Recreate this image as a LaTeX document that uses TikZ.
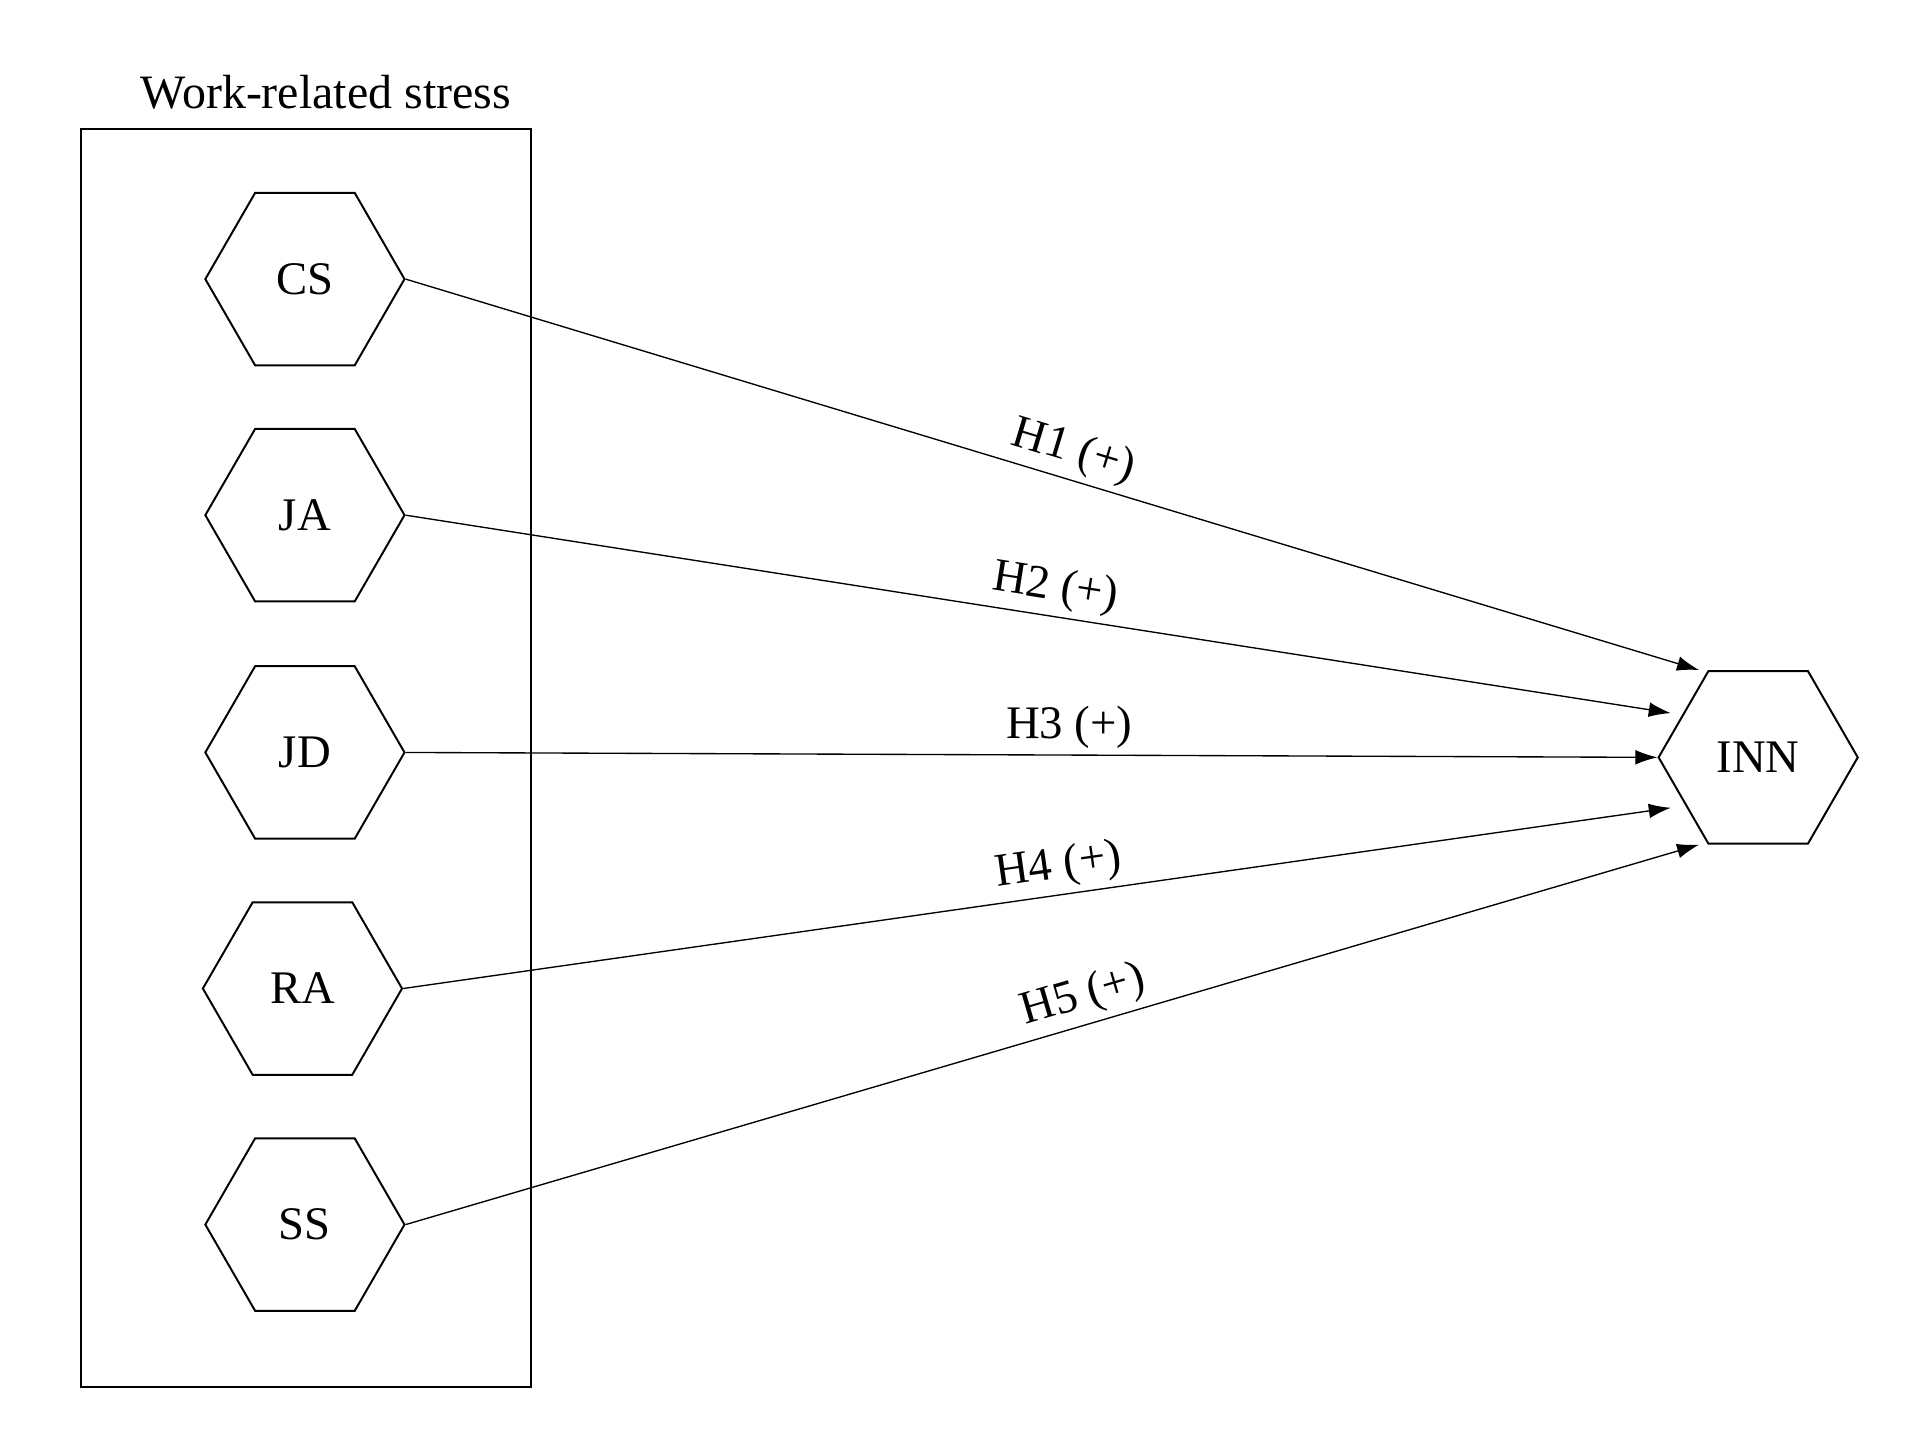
\documentclass[tikz,border=0pt]{standalone}
\usepackage{fontspec}
\setmainfont{Liberation Serif}
\usetikzlibrary{shapes.geometric,arrows.meta,calc}
\begin{document}
\begin{tikzpicture}[x=1pt,y=-1pt,
  hex/.style={draw,line width=1.6pt,regular polygon,regular polygon sides=6,shape border rotate=0,minimum size=162pt,inner sep=0pt,font=\fontsize{38}{44}\selectfont},
  arr/.style={line width=1.1pt,-{Latex[length=18pt,width=12pt]}},
  lab/.style={font=\fontsize{38}{44}\selectfont,sloped,above,inner sep=5pt}]
\useasboundingbox (0,0) rectangle (1560,1170);
\node[draw,line width=1.6pt,minimum width=366pt,minimum height=1023pt,inner sep=0pt] (box) at (249,616.5) {};
\node[font=\fontsize{39}{45}\selectfont,anchor=south] (title) at (265,92) {Work-related stress};
\node[hex] (CS) at (248,227) {CS};
\node[hex] (JA) at (248,419) {JA};
\node[hex] (JD) at (248,612) {JD};
\node[hex] (RA) at (246,804) {RA};
\node[hex] (SS) at (248,996) {SS};
\node[hex] (INN) at (1430,616) {INN};
\coordinate (e1) at ($(INN.center)+(-48,-71)$);
\coordinate (e2) at ($(INN.center)+(-71,-36)$);
\coordinate (e4) at ($(INN.center)+(-71,41)$);
\coordinate (e5) at ($(INN.center)+(-48,71)$);
\draw[arr] (CS.east) -- node[lab,pos=0.51] {H1 (+)} (e1);
\draw[arr] (JA.east) -- node[lab,pos=0.51] {H2 (+)} (e2);
\draw[arr] (JD.east) -- node[lab,pos=0.53] {H3 (+)} (INN.west);
\draw[arr] (RA.east) -- node[lab,pos=0.52] {H4 (+)} (e4);
\draw[arr] (SS.east) -- node[lab,pos=0.53] {H5 (+)} (e5);
\end{tikzpicture}
\end{document}
